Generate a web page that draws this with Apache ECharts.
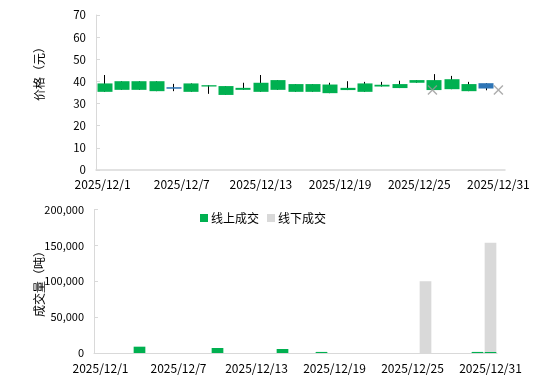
<!DOCTYPE html>
<html><head><meta charset="utf-8">
<script src="https://cdn.jsdelivr.net/npm/echarts@6/dist/echarts.min.js"></script>
<style>html,body{margin:0;padding:0;background:#fff}#c{width:538px;height:386px}</style>
</head><body><div id="c"></div>
<script>
// calendar categories (date axis)
const days = ['2025/12/1','2025/12/2','2025/12/3','2025/12/4','2025/12/5','2025/12/6','2025/12/7','2025/12/8','2025/12/9','2025/12/10','2025/12/11','2025/12/12','2025/12/13','2025/12/14','2025/12/15','2025/12/16','2025/12/17','2025/12/18','2025/12/19','2025/12/20','2025/12/21','2025/12/22','2025/12/23','2025/12/24','2025/12/25','2025/12/26','2025/12/27','2025/12/28','2025/12/29','2025/12/30','2025/12/31'];
// trading days for candles
const tradeDates = ['2025/12/1','2025/12/2','2025/12/3','2025/12/4','2025/12/5','2025/12/8','2025/12/9','2025/12/10','2025/12/11','2025/12/12','2025/12/15','2025/12/16','2025/12/17','2025/12/18','2025/12/19','2025/12/22','2025/12/23','2025/12/24','2025/12/25','2025/12/26','2025/12/29','2025/12/30','2025/12/31'];
const openP  = [35.3,36.2,36.2,35.6,37.4,35.3,37.7,33.9,36.2,35.3,36.2,35.3,35.3,34.7,36.1,35.3,37.7,37.0,39.4,36.1,36.5,35.6,39.2];
const closeP = [39.1,40.1,40.1,40.1,36.7,39.1,38.3,37.9,37.1,39.4,40.6,38.8,38.8,38.6,37.1,39.1,38.5,38.8,40.6,40.6,41.0,38.8,36.8];
const lowP   = [35.3,36.2,36.2,35.6,35.6,35.3,34.4,33.9,36.2,35.3,36.2,35.3,35.3,34.7,36.1,35.3,37.7,37.0,39.4,36.1,36.5,35.6,36.0];
const highP  = [42.9,40.1,40.1,40.1,38.9,39.1,38.3,37.9,39.4,42.9,40.6,38.8,38.8,39.4,40.1,39.8,39.8,40.3,40.6,43.3,42.5,39.8,39.2];
// offline deal price (by calendar day)
const offlinePrice = [null,null,null,null,null,null,null,null,null,null,null,null,null,null,null,null,null,null,null,null,null,null,null,null,null,36.1,null,null,null,null,36.1];
// volumes (t)
const onlineVol  = [null,null,null,8800,null,null,null,null,null,7000,null,null,null,null,5600,null,null,1500,null,null,null,null,null,null,null,null,null,null,null,1500,1500];
const offlineVol = [null,null,null,null,null,null,null,null,null,null,null,null,null,null,null,null,null,null,null,null,null,null,null,null,null,100000,null,null,null,null,152000];
const priceTicks = {min:0,max:70,interval:10};
const volTicks = {min:0,max:200000,interval:50000};

const FONT = '"Noto Sans CJK SC", sans-serif';
const axisGray = '#d9d9d9';
const bodyData = openP.map((o,i)=>[o, closeP[i], Math.min(o,closeP[i]), Math.max(o,closeP[i])]);
const wickData = lowP.map((l,i)=>[l, highP[i], l, highP[i]]);
const xMark = 'path://M0,1L1,0L5,4L9,0L10,1L6,5L10,9L9,10L5,6L1,10L0,9L4,5Z';

const chart = echarts.init(document.getElementById('c'), null, {renderer:'canvas'});
chart.setOption({
  animation:false,
  textStyle:{fontFamily:FONT},
  grid:[
    {left:96,right:33,top:15,bottom:216},
    {left:96,right:43,top:15,bottom:216},
    {left:94,right:41,top:209.5,bottom:33}
  ],
  legend:{
    data:['线上成交','线下成交'],
    left:195, top:207, itemWidth:8, itemHeight:8, itemGap:8,
    textStyle:{fontFamily:FONT,fontSize:12,color:'#000',padding:[0,0,0,-2]},
    icon:'rect'
  },
  xAxis:[
    {gridIndex:0,type:'category',data:days,boundaryGap:true,
     axisLine:{lineStyle:{color:axisGray,width:1.5}},axisTick:{show:false},
     axisLabel:{interval:5,color:'#000',fontSize:12,fontFamily:FONT,margin:8}},
    {gridIndex:1,type:'category',data:tradeDates,boundaryGap:true,show:false},
    {gridIndex:2,type:'category',data:days,boundaryGap:true,
     axisLine:{lineStyle:{color:axisGray,width:1}},axisTick:{show:false},
     axisLabel:{interval:5,color:'#000',fontSize:12,fontFamily:FONT,margin:9}}
  ],
  yAxis:[
    {gridIndex:0,type:'value',min:priceTicks.min,max:priceTicks.max,interval:priceTicks.interval,
     axisLine:{show:true,lineStyle:{color:axisGray,width:1}},
     axisTick:{show:true,inside:true,length:4,lineStyle:{color:axisGray}},
     splitLine:{show:false},axisLabel:{color:'#000',fontSize:11.5,fontFamily:FONT,margin:10}},
    {gridIndex:1,type:'value',min:priceTicks.min,max:priceTicks.max,show:false,splitLine:{show:false}},
    {gridIndex:2,type:'value',min:volTicks.min,max:volTicks.max,interval:volTicks.interval,
     axisLine:{show:true,lineStyle:{color:axisGray,width:1}},
     axisTick:{show:true,inside:true,length:4,lineStyle:{color:axisGray}},
     splitLine:{show:false},
     axisLabel:{color:'#000',fontSize:11,fontFamily:FONT,margin:10,
       formatter:v=>v.toLocaleString('en-US')}}
  ],
  graphic:[
    {type:'text',x:39,y:71,rotation:Math.PI/2,
     style:{text:'价格（元）',font:'12px '+FONT,fill:'#000',textAlign:'center',textVerticalAlign:'middle'}},
    {type:'text',x:39,y:281,rotation:Math.PI/2,
     style:{text:'成交量（吨）',font:'12px '+FONT,fill:'#000',textAlign:'center',textVerticalAlign:'middle'}}
  ],
  series:[
    {name:'wick',type:'candlestick',xAxisIndex:1,yAxisIndex:1,data:wickData,barWidth:0.5,z:2,
     itemStyle:{color:'#000',color0:'#000',borderColor:'#000',borderColor0:'#000',borderWidth:1}},
    {name:'body',type:'candlestick',xAxisIndex:1,yAxisIndex:1,data:bodyData,barWidth:15.5,z:3,
     itemStyle:{color:'#00B050',color0:'#2E75B6',borderColor:'#00B050',borderColor0:'#2E75B6',borderWidth:0}},
    {name:'线下价格',type:'scatter',xAxisIndex:0,yAxisIndex:0,data:offlinePrice,symbol:xMark,symbolSize:10,z:4,
     itemStyle:{color:'#999999'}},
    {name:'线上成交',type:'bar',xAxisIndex:2,yAxisIndex:2,stack:'v',data:onlineVol,barWidth:'90%',
     itemStyle:{color:'#00B050'}},
    {name:'线下成交',type:'bar',xAxisIndex:2,yAxisIndex:2,stack:'v',data:offlineVol,barWidth:'90%',
     itemStyle:{color:'#D9D9D9'}}
  ]
});
</script></body></html>
